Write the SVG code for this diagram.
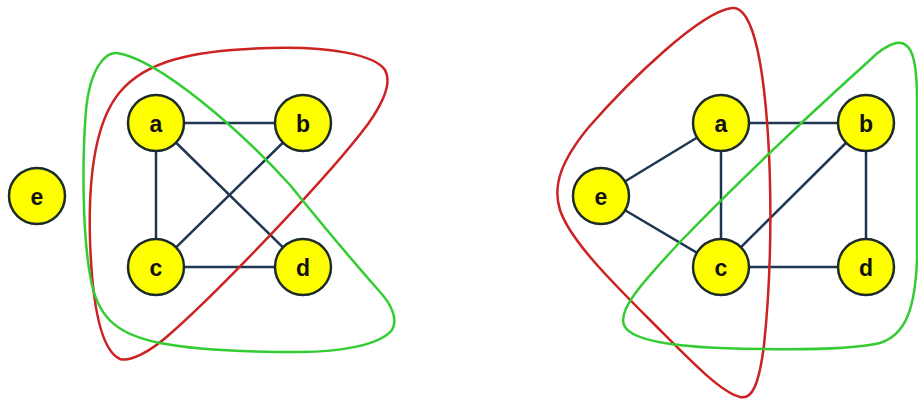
<svg xmlns="http://www.w3.org/2000/svg" width="918" height="402" viewBox="0 0 918 402">
<style>
.edge{stroke:#1f3552;stroke-width:2.5;fill:none}
.node circle{fill:#ffff00;stroke:#1c2b2b;stroke-width:2.5}
.node text{font-family:"Liberation Sans",Arial,sans-serif;font-size:23px;font-weight:bold;fill:#111;text-anchor:middle;dominant-baseline:central}
.red{fill:none;stroke:#cc2222;stroke-width:2.5}
.green{fill:none;stroke:#33cc33;stroke-width:2.5}
</style>
<rect width="918" height="402" fill="#fff"/>
<g id="connectors">
<line class="edge" x1="156" y1="123" x2="303" y2="123"/>
<line class="edge" x1="156" y1="123" x2="156" y2="267"/>
<line class="edge" x1="156" y1="123" x2="303" y2="267"/>
<line class="edge" x1="303" y1="123" x2="156" y2="267"/>
<line class="edge" x1="156" y1="267" x2="303" y2="267"/>
<line class="edge" x1="601" y1="196" x2="721" y2="123"/>
<line class="edge" x1="601" y1="196" x2="721" y2="267"/>
<line class="edge" x1="721" y1="123" x2="866" y2="123"/>
<line class="edge" x1="721" y1="123" x2="721" y2="267"/>
<line class="edge" x1="866" y1="123" x2="721" y2="267"/>
<line class="edge" x1="866" y1="123" x2="866" y2="267"/>
<line class="edge" x1="721" y1="267" x2="866" y2="267"/>
</g>
<g id="left-nodes">
<g id="L-a" class="node"><circle cx="156" cy="123" r="28"/><text x="156" y="124">a</text></g>
<g id="L-b" class="node"><circle cx="303" cy="123" r="28"/><text x="303" y="124">b</text></g>
<g id="L-c" class="node"><circle cx="156" cy="267" r="28"/><text x="156" y="268">c</text></g>
<g id="L-d" class="node"><circle cx="303" cy="267" r="28"/><text x="303" y="268">d</text></g>
<g id="L-e" class="node"><circle cx="37" cy="196" r="28"/><text x="37" y="197">e</text></g>
</g>
<g id="right-nodes">
<g id="R-a" class="node"><circle cx="721" cy="123" r="28"/><text x="721" y="124">a</text></g>
<g id="R-b" class="node"><circle cx="866" cy="123" r="28"/><text x="866" y="124">b</text></g>
<g id="R-c" class="node"><circle cx="721" cy="267" r="28"/><text x="721" y="268">c</text></g>
<g id="R-d" class="node"><circle cx="866" cy="267" r="28"/><text x="866" y="268">d</text></g>
<g id="R-e" class="node"><circle cx="601" cy="196" r="28"/><text x="601" y="197">e</text></g>
</g>
<g id="sets">
<path class="red" d="M120,359 C100,350 92,300 90,240 C88,170 98,118 120,92 C145,62 190,50 270,48 C330,46 375,55 385,70 C392,82 385,100 368,124 C330,175 220,290 170,334 C150,352 130,362 120,359 Z"/>
<path class="green" d="M117,53 C104,52 90,70 86,110 C82,160 82,240 92,285 C100,320 120,335 160,343 C200,351 260,352 300,352 C340,352 380,345 392,330 C398,320 392,305 380,292 C350,258 320,222 290,185 C240,130 160,60 117,53 Z"/>
<path class="red" d="M732,8 C748,6 758,40 764,90 C772,160 773,260 764,345 C759,385 752,400 740,397 C720,392 690,360 650,320 C610,280 570,240 560,210 C552,185 562,160 588,128 C630,80 700,12 732,8 Z"/>
<path class="green" d="M896,43 C912,40 917,60 917,100 L917,260 C915,310 905,335 880,343 C850,350 780,350 720,348 C670,346 630,340 624,325 C618,310 640,285 680,242 C740,180 820,105 870,60 C880,50 888,45 896,43 Z"/>
</g>
</svg>
